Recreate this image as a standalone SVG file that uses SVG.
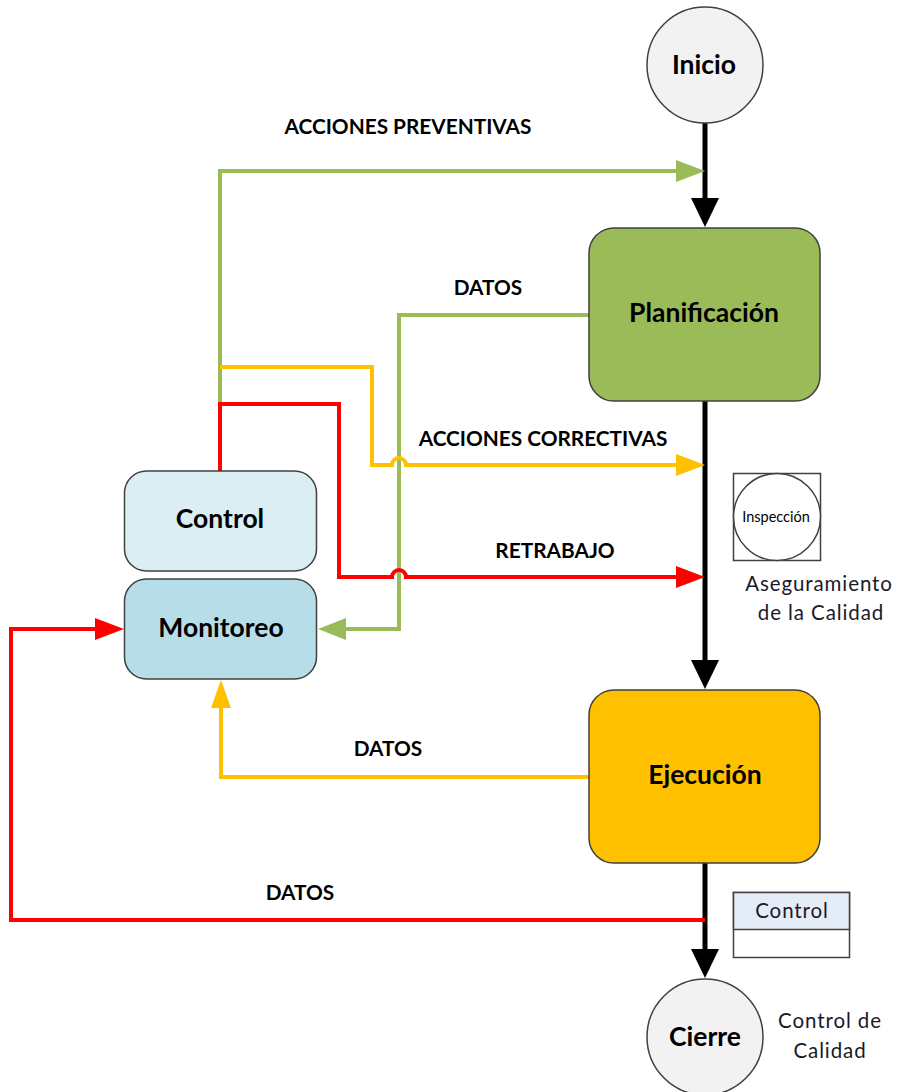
<svg xmlns="http://www.w3.org/2000/svg" width="897" height="1092" viewBox="0 0 897 1092">
<defs>
<style>
text{font-family:"Lato","Open Sans","Liberation Sans",sans-serif;text-anchor:middle;fill:#000}
.n{font-size:26.500px;font-weight:700}
.l{font-size:20.800px;font-weight:700}
.c{font-size:20.500px;letter-spacing:.9px;fill:#1a1a2a}
.box{stroke:#404040;stroke-width:1.5}
.w{fill:none;stroke-width:4}
.k{stroke:#000;stroke-width:5;fill:none}
.g{stroke:#9bbb59}.y{stroke:#ffc000}.r{stroke:#ff0000}
</style>
<marker id="mk" markerUnits="userSpaceOnUse" markerWidth="30" markerHeight="28" refX="18" refY="14" orient="auto"><path d="M0 0L29 14L0 28Z" fill="#000"/></marker>
</defs>
<rect width="897" height="1092" fill="#fff"/>
<g id="connectors">
<path class="k" d="M705 123V216" marker-end="url(#mk)"/>
<path class="k" d="M705 401V678" marker-end="url(#mk)"/>
<path class="k" d="M705 863V967" marker-end="url(#mk)"/>
<path class="w g" d="M220 471V171H680"/>
<path fill="#9bbb59" d="M676 160L705 171L676 182Z"/>
<path class="w g" d="M589 315H399V629H344"/>
<path fill="#9bbb59" d="M346 618L318 629L346 640Z"/>
<path class="w y" d="M220 367H372V465H392A7 7 0 0 1 406 465H680"/>
<path fill="#ffc000" d="M676 454L705 465L676 476Z"/>
<path class="w r" d="M220 471V404H339V577H392A7 7 0 0 1 406 577H680"/>
<path fill="#ff0000" d="M676 566L705 577L676 588Z"/>
<path class="w y" d="M589 777H221V705"/>
<path fill="#ffc000" d="M211 708L221 680L231 708Z"/>
<path class="w r" d="M705 920H11V629H100"/>
<path fill="#ff0000" d="M95 618L124 629L95 640Z"/>
</g>
<g id="inicio"><circle class="box" cx="705" cy="65" r="58" fill="#f2f2f2"/><text class="n" x="704" y="74">Inicio</text></g>
<g id="planificacion"><rect class="box" x="589" y="228" width="231" height="173" rx="25" fill="#9bbb59"/><text class="n" x="704" y="322">Planificación</text></g>
<g id="ejecucion"><rect class="box" x="589" y="690" width="231" height="173" rx="25" fill="#ffc000"/><text class="n" x="705" y="784">Ejecución</text></g>
<g id="cierre"><circle class="box" cx="705" cy="1037" r="58" fill="#f2f2f2"/><text class="n" x="705" y="1046">Cierre</text></g>
<g id="control"><rect class="box" x="124.500" y="471" width="192" height="100" rx="22" fill="#dbeef4"/><text class="n" x="220" y="528">Control</text></g>
<g id="monitoreo"><rect class="box" x="124.500" y="579" width="192" height="100" rx="22" fill="#b7dde8"/><text class="n" x="221" y="637">Monitoreo</text></g>
<g id="inspeccion"><rect class="box" x="733.500" y="473.500" width="87" height="87" fill="#fff"/><circle class="box" cx="777" cy="517" r="43.500" fill="#fff"/><text x="776" y="522" font-size="14.500" fill="#1a1a2a">Inspección</text></g>
<g id="control-tabla"><rect class="box" x="733.500" y="892.500" width="116" height="65" fill="#fff"/><rect class="box" x="733.500" y="892.500" width="116" height="37" fill="#e4ecf7"/><text class="c" x="792" y="918">Control</text></g>
<g id="labels">
<text class="l" x="408" y="134">ACCIONES PREVENTIVAS</text>
<text class="l" x="488" y="295">DATOS</text>
<text class="l" x="543" y="446">ACCIONES CORRECTIVAS</text>
<text class="l" x="555" y="558">RETRABAJO</text>
<text class="l" x="388" y="756">DATOS</text>
<text class="l" x="300" y="900">DATOS</text>
<text class="c" x="819" y="591">Aseguramiento</text>
<text class="c" x="821" y="620">de la Calidad</text>
<text class="c" x="830" y="1028">Control de</text>
<text class="c" x="830" y="1058">Calidad</text>
</g>
</svg>
